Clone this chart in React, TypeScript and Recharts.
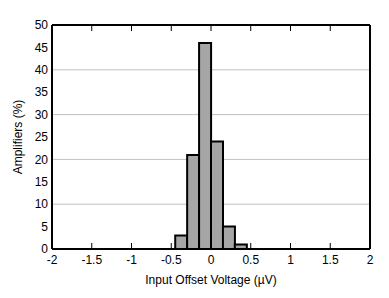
import { ComposedChart, Bar, XAxis, YAxis, CartesianGrid } from "recharts";

// histogram bins (left edges, µV) and share of amplifiers in each
const binStarts = [-0.45, -0.3, -0.15, 0, 0.15, 0.3];
const binWidth = 0.15;
const percents = [3, 21, 46, 24, 5, 1];

const xTicks = [-2, -1.5, -1, -0.5, 0, 0.5, 1, 1.5, 2];
const yTicks = [0, 5, 10, 15, 20, 25, 30, 35, 40, 45, 50];

const data = binStarts.map((start, i) => ({
  center: start + binWidth / 2,
  pct: percents[i],
}));

const font = "'Liberation Sans', Arial, sans-serif";
const tickStyle = { fill: "#000", fontSize: 12, fontFamily: font };

// tick marks only, no label text
const NoLabel = () => <g />;

export default function App() {
  return (
    <div style={{ position: "absolute", left: 0, top: 0, width: 389, height: 298, background: "#fff", fontFamily: font }}>
      <ComposedChart
        width={389}
        height={298}
        data={data}
        barCategoryGap={0}
        margin={{ top: 25, right: 19, left: 0, bottom: 0 }}
      >
        <CartesianGrid xAxisId="main" yAxisId="left" vertical={false} stroke="#c0c0c0" strokeWidth={1} />

        <XAxis
          xAxisId="main"
          type="number"
          dataKey="center"
          domain={[-2, 2]}
          ticks={xTicks}
          allowDataOverflow
          height={49}
          tickLine={false}
          tickSize={4}
          tickMargin={2}
          axisLine={{ stroke: "#000", strokeWidth: 2 }}
          tick={tickStyle}
          label={{
            value: "Input Offset Voltage (µV)",
            position: "insideBottom",
            offset: 14,
            style: { fill: "#000", fontSize: 12, fontFamily: font },
          }}
        />
        {/* inward tick marks on the bottom edge */}
        <XAxis
          xAxisId="bottomTicks"
          type="number"
          dataKey="center"
          domain={[-2, 2]}
          ticks={xTicks}
          allowDataOverflow
          orientation="bottom"
          mirror
          tick={NoLabel}
          tickSize={6}
          tickLine={{ stroke: "#000", strokeWidth: 1 }}
          axisLine={false}
        />
        {/* top frame with inward ticks */}
        <XAxis
          xAxisId="top"
          type="number"
          dataKey="center"
          domain={[-2, 2]}
          ticks={xTicks}
          allowDataOverflow
          orientation="top"
          mirror
          tick={NoLabel}
          tickSize={6}
          tickLine={{ stroke: "#000", strokeWidth: 1 }}
          axisLine={{ stroke: "#000", strokeWidth: 2 }}
        />

        <YAxis
          yAxisId="left"
          type="number"
          domain={[0, 50]}
          ticks={yTicks}
          width={52}
          tickLine={false}
          tickSize={2}
          tickMargin={2}
          axisLine={{ stroke: "#000", strokeWidth: 2 }}
          tick={tickStyle}
          label={{
            value: "Amplifiers (%)",
            angle: -90,
            position: "insideLeft",
            offset: 18,
            style: { textAnchor: "middle", fill: "#000", fontSize: 12, fontFamily: font },
          }}
        />
        <YAxis
          yAxisId="right"
          type="number"
          domain={[0, 50]}
          ticks={yTicks}
          orientation="right"
          mirror
          tick={false}
          tickLine={false}
          axisLine={{ stroke: "#000", strokeWidth: 2 }}
        />

        <Bar
          xAxisId="main"
          yAxisId="left"
          dataKey="pct"
          fill="#a6a6a6"
          stroke="#000"
          strokeWidth={2}
          isAnimationActive={false}
        />
      </ComposedChart>
    </div>
  );
}
